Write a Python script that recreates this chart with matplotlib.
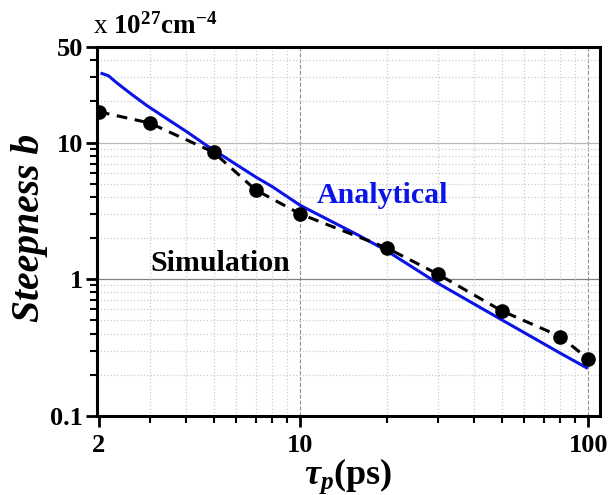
import numpy as np
import matplotlib
matplotlib.use('Agg')
import matplotlib.pyplot as plt
from matplotlib.ticker import LogLocator, FixedLocator, FixedFormatter, NullFormatter

plt.rcParams['font.family'] = ['Liberation Serif', 'DejaVu Serif']
plt.rcParams['mathtext.fontset'] = 'custom'
plt.rcParams['mathtext.rm'] = 'Liberation Serif:bold'
plt.rcParams['mathtext.it'] = 'Liberation Serif:italic:bold'
plt.rcParams['mathtext.bf'] = 'Liberation Serif:bold'

# simulation points
tau_sim = [2, 3, 5, 7, 10, 20, 30, 50, 80, 100]
b_sim = [16.8, 13.9, 8.5, 4.5, 3.0, 1.69, 1.09, 0.587, 0.38, 0.26]

# analytical curve
tau_ana = [2.05, 2.16, 2.3, 2.6, 2.94, 3.5, 4.06, 4.77, 6, 7, 8, 10, 15.9, 19.8, 29.5, 49, 80, 98.5]
b_ana = [32, 30.8, 27.5, 22.5, 18.6, 14.6, 11.9, 9.4, 6.9, 5.6, 4.75, 3.47, 2.1, 1.63, 0.955, 0.517, 0.287, 0.225]

xticks = [2, 10, 100]
yticks = [0.1, 1, 10, 50]

fig = plt.figure(figsize=(6.1, 4.95), dpi=100)
ax = fig.add_axes([0.159, 0.16, 0.825, 0.745])

ax.set_xscale('log')
ax.set_yscale('log')
ax.set_xlim(1.97, 110)
ax.set_ylim(0.1, 50)

# grid
ax.xaxis.set_minor_locator(LogLocator(base=10, subs=np.arange(2, 10) * 1.0, numticks=20))
ax.yaxis.set_minor_locator(LogLocator(base=10, subs=np.arange(2, 10) * 1.0, numticks=20))
ax.grid(which='minor', axis='both', color='#cccccc', ls=':', lw=0.9)
ax.vlines([10, 100], 0.1, 50, colors='#909090', linestyles='--', lw=0.8, zorder=1)
ax.hlines([1], 1.97, 110, colors='#808080', lw=0.9, zorder=1)
ax.hlines([10], 1.97, 110, colors='#b8b8b8', lw=0.9, zorder=1)

ax.plot(tau_ana, b_ana, color='#0a14e6', lw=2.2, zorder=3)
ax.plot(tau_sim, b_sim, color='black', ls=(0, (3.5, 2.5)), lw=2.2, zorder=4)
ax.plot(tau_sim, b_sim, 'o', color='black', ms=9.5, zorder=5)

ax.xaxis.set_major_locator(FixedLocator(xticks))
ax.xaxis.set_major_formatter(FixedFormatter(['2', '10', '100']))
ax.xaxis.set_minor_formatter(NullFormatter())
ax.yaxis.set_major_locator(FixedLocator(yticks))
ax.yaxis.set_major_formatter(FixedFormatter(['0.1', '1', '10', '50']))
ax.yaxis.set_minor_formatter(NullFormatter())

ax.tick_params(which='major', direction='out', length=8, width=2, labelsize=19)
ax.tick_params(which='minor', direction='out', length=5, width=1.5)
ax.tick_params(axis='x', which='major', pad=5)
ax.tick_params(axis='y', which='major', pad=2)
for lab in ax.get_xticklabels() + ax.get_yticklabels():
    lab.set_fontweight('bold')
for s in ax.spines.values():
    s.set_linewidth(2.2)

ax.set_ylabel('Steepness b', fontsize=28.5, fontweight='bold', fontstyle='italic')
ax.yaxis.set_label_coords(-0.097, 0.51)

fig.text(0.57, 1 - 484 / 495, r'$\tau_p$(ps)', fontsize=26, fontweight='bold',
         ha='center', va='baseline')

ax.text(3.01, 1.14, 'Simulation', fontsize=21.5, fontweight='bold', color='black')
ax.text(11.4, 3.59, 'Analytical', fontsize=21.5, fontweight='bold', color='#0a14e6')

fig.text(0.152, 0.932, r'x $\mathbf{10^{27}cm^{-4}}$', fontsize=19.5, color='black')

fig.savefig('out.png', dpi=100)
